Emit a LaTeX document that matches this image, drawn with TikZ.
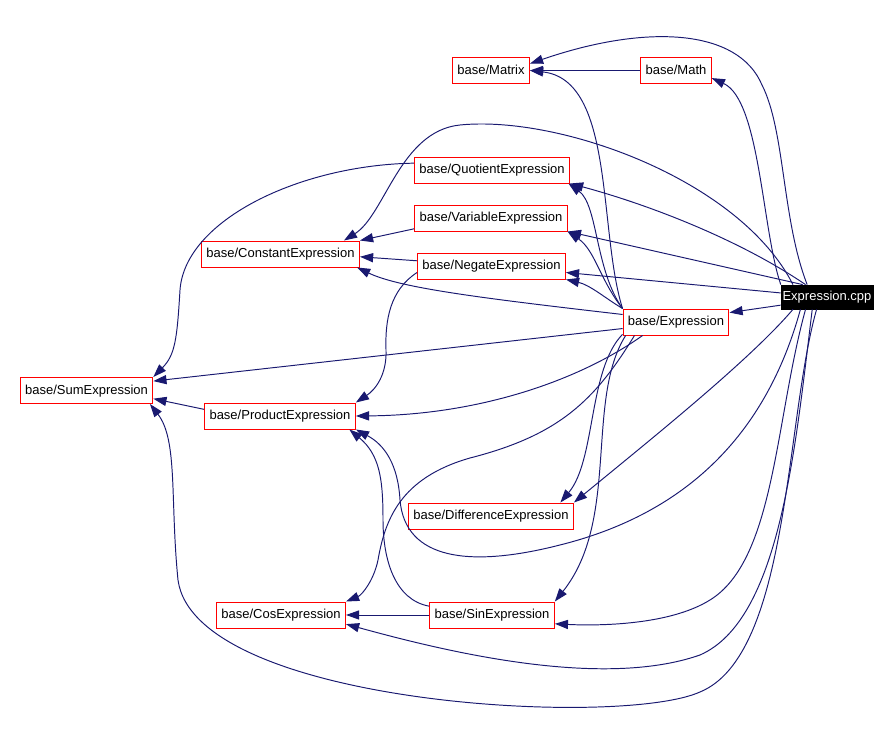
\documentclass[tikz,border=0pt]{standalone}
\usepackage{fontspec}
\setmainfont{Liberation Sans}
\usetikzlibrary{arrows.meta}

\begin{document}
\begin{tikzpicture}[x=0.02cm, y=-0.02cm,
  datei/.style={draw=red, fill=white, line width=0.55pt, inner xsep=2.8pt, inner ysep=0pt,
    minimum height=14.8pt, text height=5.4pt, text depth=1.4pt, font=\fontsize{7.4}{8}\selectfont},
  quelle/.style={draw=black, fill=black, text=white, inner xsep=0.9pt, inner ysep=0pt,
    minimum height=13.7pt, text height=5.4pt, text depth=1.4pt, font=\fontsize{7.4}{8}\selectfont},
  dep/.style={-{Triangle[length=7.5pt,width=5.2pt]}, draw=DoxBlue, line width=0.55pt}]
\definecolor{DoxBlue}{RGB}{25,25,112}
\useasboundingbox (0,0) rectangle (894,742);

% ======================= KNOTEN =======================
\node[datei] (mtx) at (491,70.5) {base/Matrix};
\node[datei] (math) at (676,70.5) {base/Math};
\node[datei] (quot) at (492,170) {base/QuotientExpression};
\node[datei] (var) at (491,218) {base/VariableExpression};
\node[datei] (const) at (280.5,254) {base/ConstantExpression};
\node[datei] (neg) at (491.5,266) {base/NegateExpression};
\node[datei] (expr) at (676,322) {base/Expression};
\node[quelle] (cpp) at (827,297) {Expression.cpp};
\node[datei] (sum) at (86.5,390.5) {base/SumExpression};
\node[datei] (prod) at (280,416) {base/ProductExpression};
\node[datei] (diff) at (491,516) {base/DifferenceExpression};
\node[datei] (cos) at (281,615) {base/CosExpression};
\node[datei] (sin) at (492,615) {base/SinExpression};

% ======================= KANTEN: Expression.cpp =======================
\draw[dep] (cpp.148) .. controls (782,220) and (785,130) .. (762,85)
  .. controls (738,28) and (645,24) .. (mtx.10);
\draw[dep] (cpp.165) .. controls (762,230) and (760,100) .. (math.-12);
\draw[dep] (cpp.160) .. controls (740,180) and (560,115) .. (460,125)
  .. controls (400,131) and (385,215) .. (const.12);
\draw[dep] (cpp.150) .. controls (740,240) and (650,205) .. (quot.south east);
\draw[dep] (cpp.153) -- (var.south east);
\draw[dep] (cpp.175) -- (neg.-5);
\draw[dep] (cpp.190) -- (expr.10);
\draw[dep] (cpp.-160) .. controls (750,360) and (650,440) .. (diff.north east);
\draw[dep] (cpp.-155) .. controls (770,420) and (700,510) .. (560,545)
  .. controls (470,568) and (405,560) .. (400,500)
  .. controls (398,465) and (385,445) .. (prod.south east);
\draw[dep] (cpp.-150) .. controls (775,420) and (775,560) .. (710,600)
  .. controls (670,625) and (600,626) .. (sin.-8);
\draw[dep] (cpp.-140) .. controls (795,450) and (780,620) .. (700,655)
  .. controls (600,690) and (440,650) .. (cos.-8);
% grosser Bogen unten herum
\draw[dep] (cpp.-130) .. controls (785,420) and (790,655) .. (700,692)
  .. controls (620,728) and (195,705) .. (178,580)
  .. controls (170,500) and (178,440) .. (sum.-12);

% ======================= KANTEN: base/Expression =======================
\draw[dep] (expr.north west) .. controls (598,230) and (615,80) .. (mtx.east);
\draw[dep] (expr.north west) .. controls (595,270) and (598,205) .. (quot.-10);
\draw[dep] (expr.north west) .. controls (600,280) and (595,250) .. (var.-10);
\draw[dep] (expr.north west) .. controls (605,298) and (590,285) .. (neg.south east);
\draw[dep] (expr.172) .. controls (480,298) and (400,288) .. (const.-10.5);
\draw[dep] (expr.187) -- (sum.8);
\draw[dep] (expr.-158) .. controls (580,380) and (480,415) .. (prod.east);
\draw[dep] (expr.-167) .. controls (588,370) and (596,460) .. (diff.11);
\draw[dep] (expr.-165) .. controls (585,400) and (620,520) .. (sin.north east);
\draw[dep] (expr.-162) .. controls (595,400) and (560,435) .. (470,458)
  .. controls (400,478) and (385,520) .. (378,560)
  .. controls (374,580) and (362,595) .. (cos.north east);

% ======================= UEBRIGE KANTEN =======================
\draw[dep] (math.west) -- (mtx.east);
\draw[dep] (quot.175) .. controls (300,165) and (185,220) .. (180,290)
  .. controls (177,340) and (175,355) .. (sum.north east);
\draw[dep] (var.188) -- (const.north east);
\draw[dep] (neg.176) -- (const.-2);
\draw[dep] (neg.185) .. controls (390,290) and (385,320) .. (386,350)
  .. controls (387,375) and (375,390) .. (prod.north east);
\draw[dep] (prod.175) -- (sum.-7);
\draw[dep] (sin.west) -- (cos.east);
\draw[dep] (sin.172) .. controls (395,600) and (383,560) .. (383,520)
  .. controls (383,480) and (380,455) .. (prod.-11);

\end{tikzpicture}
\end{document}
